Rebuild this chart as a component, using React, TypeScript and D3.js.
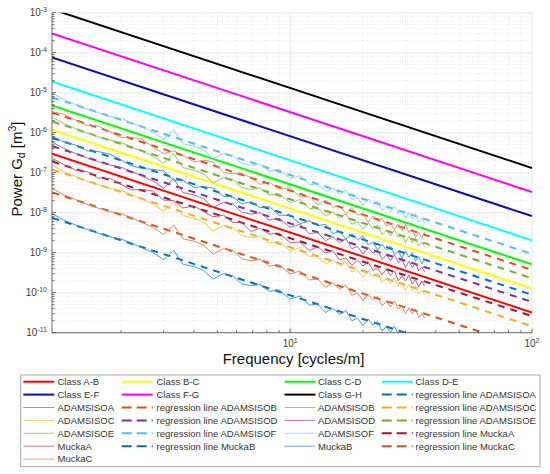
import React from 'react';
import * as d3 from 'd3';

// ---------- data ----------
const frequency = [1.04, 1.15, 1.3, 1.45, 1.6, 1.8, 2.0, 2.2, 2.45, 2.7, 3.0, 3.3, 3.6, 4.0, 4.4, 4.8, 5.3, 5.8, 6.3, 6.9, 7.5, 8.2, 9.0, 10, 11, 12, 13, 14, 15, 16, 17, 18, 19, 20, 21, 22, 23, 24, 25, 26, 27, 28, 29, 30, 31, 32, 33, 34, 35, 36];

const adamsIsoA = [9.5e-9, 6.7e-9, 4.9e-9, 3.8e-9, 3.1e-9, 2.5e-9, 2.2e-9, 1.76e-9, 1.32e-9, 1.02e-9, 6.7e-10, 1.15e-9, 5.2e-10, 4.5e-10, 3.6e-10, 2.2e-10, 3.0e-10, 2.65e-10, 1.67e-10, 1.49e-10, 1.62e-10, 1.08e-10, 1.18e-10, 6.9e-11, 8.3e-11, 4.9e-11, 5.2e-11, 3.2e-11, 4.1e-11, 2.9e-11, 3.6e-11, 2.0e-11, 2.3e-11, 1.5e-11, 2.2e-11, 1.57e-11, 1.9e-11, 1.1e-11, 1.43e-11, 1.02e-11, 1.44e-11, 9.2e-12, 1.09e-11, 7.0e-12, 1.0e-11, 6.9e-12, 9.2e-12, 5.7e-12, 7.1e-12, 5.3e-12];
const adamsIsoB = [4.0e-8, 2.87e-8, 2.1e-8, 1.61e-8, 1.32e-8, 1.07e-8, 9.5e-9, 7.5e-9, 5.65e-9, 4.35e-9, 2.86e-9, 4.9e-9, 2.23e-9, 1.93e-9, 1.53e-9, 9.3e-10, 1.26e-9, 1.13e-9, 7.1e-10, 6.3e-10, 6.9e-10, 4.6e-10, 5.0e-10, 2.95e-10, 3.5e-10, 2.1e-10, 2.2e-10, 1.37e-10, 1.73e-10, 1.24e-10, 1.55e-10, 8.7e-11, 9.8e-11, 6.4e-11, 9.2e-11, 6.7e-11, 8.1e-11, 4.7e-11, 6.1e-11, 4.4e-11, 6.1e-11, 3.9e-11, 4.6e-11, 3.0e-11, 4.2e-11, 2.95e-11, 3.9e-11, 2.4e-11, 3.0e-11, 2.3e-11];
const adamsIsoC = [1.53e-7, 1.09e-7, 8.0e-8, 6.1e-8, 5.0e-8, 4.1e-8, 3.6e-8, 2.86e-8, 2.15e-8, 1.65e-8, 1.09e-8, 1.87e-8, 8.5e-9, 7.3e-9, 5.8e-9, 3.5e-9, 4.8e-9, 4.3e-9, 2.7e-9, 2.4e-9, 2.6e-9, 1.75e-9, 1.91e-9, 1.12e-9, 1.34e-9, 8.0e-10, 8.4e-10, 5.2e-10, 6.6e-10, 4.7e-10, 5.9e-10, 3.3e-10, 3.7e-10, 2.44e-10, 3.5e-10, 2.55e-10, 3.06e-10, 1.78e-10, 2.3e-10, 1.66e-10, 2.33e-10, 1.5e-10, 1.76e-10, 1.14e-10, 1.61e-10, 1.12e-10, 1.49e-10, 9.3e-11, 1.15e-10, 8.7e-11];
const adamsIsoD = [5.8e-7, 4.15e-7, 3.0e-7, 2.33e-7, 1.91e-7, 1.55e-7, 1.37e-7, 1.09e-7, 8.2e-8, 6.3e-8, 4.1e-8, 7.1e-8, 3.2e-8, 2.8e-8, 2.2e-8, 1.34e-8, 1.83e-8, 1.64e-8, 1.03e-8, 9.2e-9, 1.0e-8, 6.6e-9, 7.3e-9, 4.3e-9, 5.1e-9, 3.0e-9, 3.2e-9, 1.99e-9, 2.5e-9, 1.79e-9, 2.24e-9, 1.26e-9, 1.42e-9, 9.3e-10, 1.34e-9, 9.7e-10, 1.16e-9, 6.8e-10, 8.8e-10, 6.3e-10, 8.9e-10, 5.7e-10, 6.7e-10, 4.3e-10, 6.1e-10, 4.3e-10, 5.65e-10, 3.5e-10, 4.4e-10, 3.3e-10];
const adamsIsoE = [2.43e-6, 1.73e-6, 1.26e-6, 9.7e-7, 8.0e-7, 6.5e-7, 5.7e-7, 4.5e-7, 3.4e-7, 2.6e-7, 1.72e-7, 3.0e-7, 1.34e-7, 1.16e-7, 9.2e-8, 5.6e-8, 7.6e-8, 6.8e-8, 4.3e-8, 3.8e-8, 4.2e-8, 2.8e-8, 3.0e-8, 1.78e-8, 2.13e-8, 1.26e-8, 1.32e-8, 8.3e-9, 1.04e-8, 7.4e-9, 9.3e-9, 5.2e-9, 5.9e-9, 3.9e-9, 5.6e-9, 4.0e-9, 4.9e-9, 2.8e-9, 3.7e-9, 2.6e-9, 3.7e-9, 2.4e-9, 2.8e-9, 1.8e-9, 2.56e-9, 1.78e-9, 2.36e-9, 1.47e-9, 1.83e-9, 1.37e-9];
const adamsIsoF = [9.7e-6, 6.9e-6, 5.0e-6, 3.9e-6, 3.2e-6, 2.57e-6, 2.28e-6, 1.8e-6, 1.36e-6, 1.04e-6, 6.9e-7, 1.18e-6, 5.3e-7, 4.6e-7, 3.7e-7, 2.23e-7, 3.0e-7, 2.7e-7, 1.71e-7, 1.52e-7, 1.66e-7, 1.1e-7, 1.21e-7, 7.1e-8, 8.5e-8, 5.0e-8, 5.3e-8, 3.3e-8, 4.15e-8, 2.96e-8, 3.7e-8, 2.1e-8, 2.36e-8, 1.54e-8, 2.2e-8, 1.61e-8, 1.93e-8, 1.12e-8, 1.46e-8, 1.05e-8, 1.47e-8, 9.5e-9, 1.11e-8, 7.2e-9, 1.02e-8, 7.1e-9, 9.4e-9, 5.9e-9, 7.3e-9, 5.5e-9];
const muckaA = [2.27e-7, 1.65e-7, 1.15e-7, 1.07e-7, 7.4e-8, 7.2e-8, 5.1e-8, 3.7e-8, 3.8e-8, 3.5e-8, 2.07e-8, 2.0e-8, 1.31e-8, 1.47e-8, 1.06e-8, 7.9e-9, 8.7e-9, 5.7e-9, 5.65e-9, 3.4e-9, 4.1e-9, 2.9e-9, 3.1e-9, 1.78e-9, 1.85e-9, 1.13e-9, 1.42e-9, 9.7e-10, 1.14e-9, 6.6e-10, 7.4e-10, 4.8e-10, 6.5e-10, 4.66e-10, 6.0e-10, 3.6e-10, 4.1e-10, 2.8e-10, 3.9e-10, 2.7e-10, 3.5e-10, 1.98e-10, 2.67e-10, 1.98e-10, 2.8e-10, 1.62e-10, 2.1e-10, 1.37e-10, 1.96e-10, 1.44e-10];
const muckaB = [8.2e-7, 6.0e-7, 4.9e-7, 3.5e-7, 3.4e-7, 2.9e-7, 2.08e-7, 1.5e-7, 1.26e-7, 1.22e-7, 1.11e-7, 6.5e-8, 6.4e-8, 4.3e-8, 4.5e-8, 4.15e-8, 2.58e-8, 2.48e-8, 1.67e-8, 1.87e-8, 1.32e-8, 1.42e-8, 8.7e-9, 8.5e-9, 5.3e-9, 6.3e-9, 4.7e-9, 5.1e-9, 3.0e-9, 3.4e-9, 2.19e-9, 2.95e-9, 2.1e-9, 2.6e-9, 1.57e-9, 1.85e-9, 1.16e-9, 1.62e-9, 1.16e-9, 1.48e-9, 9.1e-10, 1.09e-9, 7.2e-10, 1.09e-9, 7.7e-10, 1.0e-9, 6.2e-10, 7.9e-10, 5.2e-10, 6.7e-10];
const muckaC = [3.36e-6, 2.94e-6, 2.05e-6, 1.51e-6, 1.49e-6, 1.05e-6, 7.6e-7, 7.7e-7, 6.8e-7, 4.45e-7, 3.0e-7, 3.5e-7, 2.74e-7, 1.85e-7, 2.06e-7, 1.85e-7, 1.0e-7, 9.4e-8, 9.8e-8, 7.4e-8, 5.1e-8, 5.8e-8, 3.9e-8, 4.2e-8, 2.5e-8, 2.52e-8, 1.59e-8, 2.08e-8, 1.37e-8, 1.52e-8, 9.5e-9, 1.35e-8, 8.7e-9, 9.5e-9, 5.8e-9, 8.2e-9, 6.1e-9, 7.4e-9, 4.6e-9, 5.5e-9, 3.7e-9, 5.3e-9, 3.6e-9, 5.0e-9, 3.2e-9, 3.9e-9, 2.4e-9, 3.3e-9, 2.3e-9, 3.3e-9];

const seriesNames = ['ADAMSISOA', 'ADAMSISOB', 'ADAMSISOC', 'ADAMSISOD', 'ADAMSISOE', 'ADAMSISOF', 'MuckaA', 'MuckaB', 'MuckaC'];
const seriesValues = [adamsIsoA, adamsIsoB, adamsIsoC, adamsIsoD, adamsIsoE, adamsIsoF, muckaA, muckaB, muckaC];

// regression lines: value at regressionFreq[0] and regressionFreq[1]
const regressionFreq = [1.04, 100];
const regressionStart = [7.4e-9, 3.2e-8, 1.2e-7, 4.6e-7, 1.9e-6, 7.6e-6, 1.9e-7, 7.4e-7, 3.16e-6];
const regressionEnd = [9.3e-13, 4.0e-12, 1.45e-11, 5.9e-11, 2.3e-10, 9.3e-10, 2.6e-11, 8.9e-11, 3.7e-10];

// ISO 8608 class boundaries: value at classFreq[0] and classFreq[1]
const classNames = ['Class A-B', 'Class B-C', 'Class C-D', 'Class D-E', 'Class E-F', 'Class F-G', 'Class G-H'];
const classFreq = [1.036, 100];
const classStart = [2.98e-7, 1.19e-6, 4.77e-6, 1.91e-5, 7.63e-5, 3.05e-4, 1.22e-3];
const classEnd = [3.2e-11, 1.28e-10, 5.12e-10, 2.05e-9, 8.19e-9, 3.28e-8, 1.31e-7];

const yTickExponents = [-3, -4, -5, -6, -7, -8, -9, -10, -11];
const xTickExponents = [1, 2];

// ---------- styles ----------
const classColors = ['#ff0000', '#ffff00', '#00ff00', '#00ffff', '#0d0dab', '#ff00ff', '#000000'];
const regColors = ['#0072bd', '#d95319', '#edb120', '#7e2f8e', '#77ac30', '#4dbeee', '#a2142f', '#0072bd', '#d95319'];
const dataColors = ['#2f93cc', '#e07a50', '#f0c04c', '#9a58a8', '#8fbf52', '#7fd0f2', '#b8506a', '#3a8fc0', '#e08a5c'];

const W = 550;
const H = 474;
const M = { left: 52, right: 532, top: 12.7, bottom: 332.7 };
const FONT = 'Liberation Sans, Arial, Helvetica, sans-serif';
const TXT = '#333333';

export default function App() {
  const x = d3.scaleLog().domain([1.036, 100]).range([M.left, M.right]);
  const y = d3.scaleLog().domain([1e-11, 1e-3]).range([M.bottom, M.top]);

  const line = d3
    .line<[number, number]>()
    .x((d) => x(d[0]))
    .y((d) => y(d[1]));

  const xMinor: number[] = [];
  [1, 10].forEach((dec) => {
    for (let k = 2; k <= 9; k++) xMinor.push(dec * k);
  });
  const yMinor: number[] = [];
  for (let e = -11; e < -3; e++) {
    for (let k = 2; k <= 9; k++) yMinor.push(k * Math.pow(10, e));
  }

  const elems: React.ReactNode[] = [];
  classNames.forEach((n, i) => {
    elems.push(
      <path
        key={'c' + i}
        d={line([[classFreq[0], classStart[i]], [classFreq[1], classEnd[i]]]) || ''}
        stroke={classColors[i]}
        strokeWidth={2}
        fill="none"
      />
    );
  });
  seriesNames.forEach((n, i) => {
    elems.push(
      <path
        key={'r' + i}
        d={line([[regressionFreq[0], regressionStart[i]], [regressionFreq[1], regressionEnd[i]]]) || ''}
        stroke={regColors[i]}
        strokeWidth={2}
        strokeDasharray="7 6"
        fill="none"
      />
    );
    const pts: [number, number][] = frequency.map((f, j) => [f, seriesValues[i][j]]);
    elems.push(
      <path
        key={'d' + i}
        d={line(pts) || ''}
        stroke={dataColors[i]}
        strokeWidth={0.9}
        strokeLinejoin="round"
        fill="none"
      />
    );
  });

  type Entry = { label: string; color: string; kind: 'class' | 'data' | 'reg' };
  const entries: Entry[] = [];
  classNames.forEach((n, i) => entries.push({ label: n, color: classColors[i], kind: 'class' }));
  seriesNames.forEach((n, i) => {
    entries.push({ label: 'regression line ' + n, color: regColors[i], kind: 'reg' });
    entries.push({ label: n, color: dataColors[i], kind: 'data' });
  });
  const colLineX = [23.3, 121.7, 284.5, 381.7];
  const colTextX = [57.5, 156.5, 318, 415.5];
  const rowY0 = 381.7;
  const rowDY = 12.9;

  return (
    <svg
      width={W}
      height={H}
      viewBox={`0 0 ${W} ${H}`}
      style={{ position: 'absolute', left: 0, top: 0, background: '#ffffff' }}
      fontFamily={FONT}
    >
      <rect x={0} y={0} width={W} height={H} fill="#ffffff" />
      <defs>
        <clipPath id="plotClip">
          <rect x={M.left} y={M.top} width={M.right - M.left} height={M.bottom - M.top} />
        </clipPath>
      </defs>

      <g stroke="#d8d8d8" strokeWidth={0.5} strokeDasharray="1 1.5">
        {xMinor.map((f) => (
          <line key={'xm' + f} x1={x(f)} x2={x(f)} y1={M.top} y2={M.bottom} />
        ))}
        {yMinor.map((v, i) => (
          <line key={'ym' + i} x1={M.left} x2={M.right} y1={y(v)} y2={y(v)} />
        ))}
      </g>
      <g stroke="#dedede" strokeWidth={0.7}>
        {xTickExponents.map((e) => (
          <line key={'xg' + e} x1={x(Math.pow(10, e))} x2={x(Math.pow(10, e))} y1={M.top} y2={M.bottom} />
        ))}
        {yTickExponents.map((e) => (
          <line key={'yg' + e} x1={M.left} x2={M.right} y1={y(Math.pow(10, e))} y2={y(Math.pow(10, e))} />
        ))}
      </g>

      <g clipPath="url(#plotClip)">{elems}</g>

      <g stroke="#4a4a4a" strokeWidth={0.8} fill="none">
        <line x1={M.left} x2={M.left} y1={M.top} y2={M.bottom} />
        <line x1={M.left} x2={M.right} y1={M.bottom} y2={M.bottom} />
        {yTickExponents.map((e) => (
          <line key={'yt' + e} x1={M.left} x2={M.left + 4} y1={y(Math.pow(10, e))} y2={y(Math.pow(10, e))} />
        ))}
        {yMinor.map((v, i) => (
          <line key={'ymt' + i} x1={M.left} x2={M.left + 2.5} y1={y(v)} y2={y(v)} />
        ))}
        {xTickExponents.map((e) => (
          <line key={'xt' + e} x1={x(Math.pow(10, e))} x2={x(Math.pow(10, e))} y1={M.bottom} y2={M.bottom - 4} />
        ))}
        {xMinor.map((f) => (
          <line key={'xmt' + f} x1={x(f)} x2={x(f)} y1={M.bottom} y2={M.bottom - 2.5} />
        ))}
      </g>

      <g fill="#3c3c3c" fontSize={10}>
        {yTickExponents.map((e) => (
          <text key={'yl' + e} x={M.left - 5} y={y(Math.pow(10, e)) + 3.5} textAnchor="end">
            10
            <tspan fontSize={7} dy={-4.5}>
              {String(e)}
            </tspan>
          </text>
        ))}
        {xTickExponents.map((e) => (
          <text key={'xl' + e} x={x(Math.pow(10, e))} y={347} textAnchor="middle">
            10
            <tspan fontSize={7} dy={-4.5}>
              {String(e)}
            </tspan>
          </text>
        ))}
      </g>

      <text x={293.5} y={363.5} textAnchor="middle" fontSize={15} fill="#111">
        Frequency [cycles/m]
      </text>
      <text transform="translate(21.5,169) rotate(-90)" textAnchor="middle" fontSize={15} fill="#111">
        Power G
        <tspan fontSize={10.5} dy={3}>d</tspan>
        <tspan dy={-3}> [m</tspan>
        <tspan fontSize={10.5} dy={-5.5}>3</tspan>
        <tspan dy={5.5}>]</tspan>
      </text>

      <rect x={20.7} y={375} width={519.3} height={91.7} fill="#ffffff" stroke="#a0a0a0" strokeWidth={0.9} />
      {entries.map((en, k) => {
        const row = Math.floor(k / 4);
        const col = k % 4;
        const yy = rowY0 + row * rowDY;
        const lx = colLineX[col];
        return (
          <g key={'lg' + k}>
            <line
              x1={lx}
              x2={lx + 31}
              y1={yy}
              y2={yy}
              stroke={en.color}
              strokeWidth={en.kind === 'data' ? 1 : 2}
              strokeDasharray={en.kind === 'reg' ? '10 5' : undefined}
              opacity={en.kind === 'data' ? 0.75 : 1}
            />
            <text x={colTextX[col]} y={yy + 3.3} fontSize={9.5} fill={TXT}>
              {en.label}
            </text>
          </g>
        );
      })}
    </svg>
  );
}
